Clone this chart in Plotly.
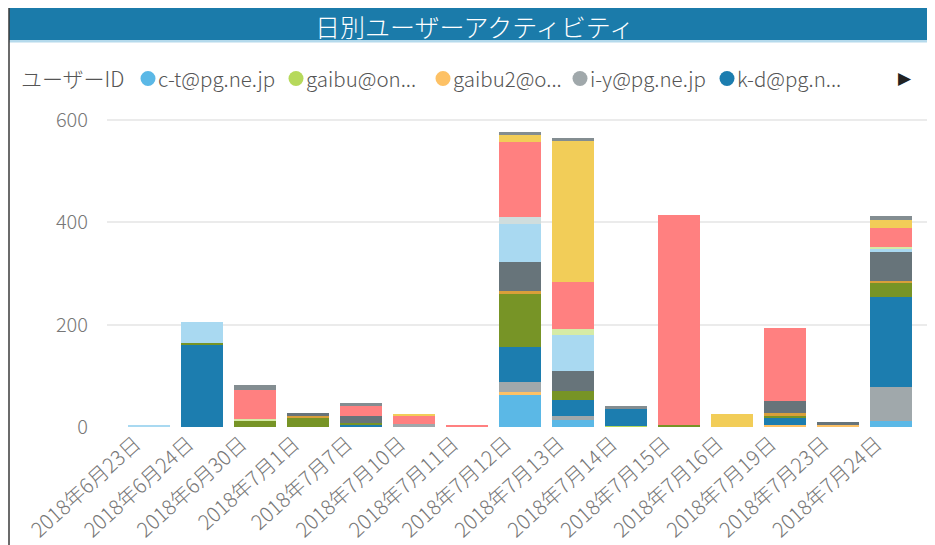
import plotly.graph_objects as go

dates = ["2018年6月23日", "2018年6月24日", "2018年6月30日", "2018年7月1日", "2018年7月7日",
         "2018年7月10日", "2018年7月11日", "2018年7月12日", "2018年7月13日", "2018年7月14日",
         "2018年7月15日", "2018年7月16日", "2018年7月19日", "2018年7月23日", "2018年7月24日"]

series_names = ["c-t@pg.ne.jp", "gaibu@on...", "gaibu2@o...", "i-y@pg.ne.jp", "k-d@pg.n...",
                "ユーザー6", "ユーザー7", "ユーザー8", "ユーザー9", "ユーザー10",
                "ユーザー11", "ユーザー12", "ユーザー13", "ユーザー14"]

ct     = [0, 0, 0, 0, 0, 0, 0, 62, 14, 0, 0, 0, 0, 0, 11]
gaibu  = [0, 0, 0, 0, 0, 0, 0, 0, 0, 2, 0, 0, 0, 0, 0]
gaibu2 = [0, 0, 0, 0, 0, 0, 0, 6, 0, 0, 0, 0, 3, 3, 0]
iy     = [0, 0, 0, 0, 0, 5, 0, 20, 8, 0, 0, 0, 0, 0, 67]
kd     = [0, 161, 0, 0, 3, 0, 0, 68, 31, 33, 0, 0, 15, 0, 177]
u6     = [0, 3, 11, 19, 5, 0, 0, 104, 18, 0, 4, 0, 4, 0, 27]
u7     = [0, 0, 0, 3, 0, 0, 0, 5, 0, 0, 0, 0, 5, 0, 3]
u8     = [0, 0, 0, 5, 13, 0, 0, 57, 39, 0, 0, 0, 24, 7, 57]
u9     = [3, 42, 0, 0, 0, 0, 0, 74, 69, 0, 0, 0, 0, 0, 6]
u10    = [0, 0, 0, 0, 0, 0, 0, 14, 0, 0, 0, 0, 0, 0, 0]
u11    = [0, 0, 5, 0, 0, 0, 0, 0, 13, 0, 0, 0, 0, 0, 4]
u12    = [0, 0, 57, 0, 20, 18, 2, 147, 92, 0, 410, 0, 143, 0, 37]
u13    = [0, 0, 0, 0, 0, 2, 0, 14, 275, 0, 0, 26, 0, 0, 16]
u14    = [0, 0, 10, 0, 6, 0, 0, 5, 6, 6, 0, 0, 0, 0, 7]

values = [ct, gaibu, gaibu2, iy, kd, u6, u7, u8, u9, u10, u11, u12, u13, u14]

colors = ["#5BB8E6", "#B6D95B", "#FDC165", "#A0A8AB", "#1C7DAF", "#779426", "#D99F3A",
          "#67747A", "#A9D9F1", "#CFDDDD", "#D6EBA6", "#FF8080", "#F2CD58", "#838D91"]

legend_title = "ユーザーID"
legend_count = 5
legend_circle_x = [148, 296, 443, 580, 727]

title_text = "日別ユーザーアクティビティ"
ytick_vals = [0, 200, 400, 600]

FONT = "Noto Sans CJK JP"
OFF = 8                      # page body margin
W, H = 935 - OFF, 545 - OFF
ML, MR, MT, MB = 107 - OFF, 3, 110 - OFF, 118

fig = go.Figure()
for name, vals, col in zip(series_names, values, colors):
    fig.add_trace(go.Bar(x=dates, y=vals, name=name, marker=dict(color=col, line=dict(width=0)),
                         showlegend=False))

fig.update_layout(
    width=W, height=H,
    margin=dict(l=ML, r=MR, t=MT, b=MB),
    paper_bgcolor="white", plot_bgcolor="white",
    barmode="stack", bargap=0.21,
    font=dict(family=FONT, color="#666666"),
    showlegend=False,
    xaxis=dict(range=[-0.8, 14.78], tickangle=-42,
               tickfont=dict(size=20.5, color="#777777", weight=300),
               ticklabelshift=-14,
               showgrid=False, showline=False, zeroline=False, ticks=""),
    yaxis=dict(range=[0, 619.5], tickvals=ytick_vals,
               tickfont=dict(size=20, color="#777777", weight=300),
               showgrid=True, gridcolor="#EBEBEB", gridwidth=1.5, zeroline=False,
               showline=False, ticks="", ticklabelstandoff=18),
)

# decorations given in screenshot pixel coordinates
def px(x):
    return (x - OFF - ML) / (W - ML - MR)

def py(y):
    return (H - MB - (y - OFF)) / (H - MT - MB)

deco = [
    dict(type="rect", xref="paper", yref="paper", x0=px(9), x1=px(932), y0=py(40), y1=py(8),
         fillcolor="#1B7BAA", line=dict(width=0), layer="above"),
    dict(type="rect", xref="paper", yref="paper", x0=px(9), x1=px(932), y0=py(42.5), y1=py(40),
         fillcolor="#B5DAEC", line=dict(width=0), layer="above"),
    dict(type="line", xref="paper", yref="paper", x0=px(9), x1=px(9), y0=py(560), y1=py(8),
         line=dict(color="#3A3A3A", width=1.5), layer="above"),
]
annotations = []
for i in range(legend_count):
    cx = legend_circle_x[i]
    deco.append(dict(type="circle", xref="paper", yref="paper",
                     x0=px(cx - 7.5), x1=px(cx + 7.5), y0=py(86), y1=py(71),
                     fillcolor=colors[i], line=dict(width=0), layer="above"))
    annotations.append(dict(text=series_names[i], xref="paper", yref="paper",
                            x=px(cx + 8), y=py(78), xanchor="left", yanchor="middle",
                            showarrow=False,
                            font=dict(size=20.5, color="#555555", family=FONT, weight=300)))

annotations.append(dict(text=legend_title, xref="paper", yref="paper", x=px(19), y=py(78),
                        xanchor="left", yanchor="middle", showarrow=False,
                        font=dict(size=21, color="#555555", family=FONT, weight=300)))
annotations.append(dict(text="▶", xref="paper", yref="paper", x=px(905), y=py(78),
                        xanchor="center", yanchor="middle", showarrow=False,
                        font=dict(size=17, color="#222222", family="DejaVu Sans")))
annotations.append(dict(text=title_text, xref="paper", yref="paper", x=px(474), y=py(26),
                        xanchor="center", yanchor="middle", showarrow=False, borderpad=0,
                        font=dict(size=25, color="white", family=FONT, weight=300)))

fig.update_layout(shapes=deco, annotations=annotations)
fig.write_html("out.html")
